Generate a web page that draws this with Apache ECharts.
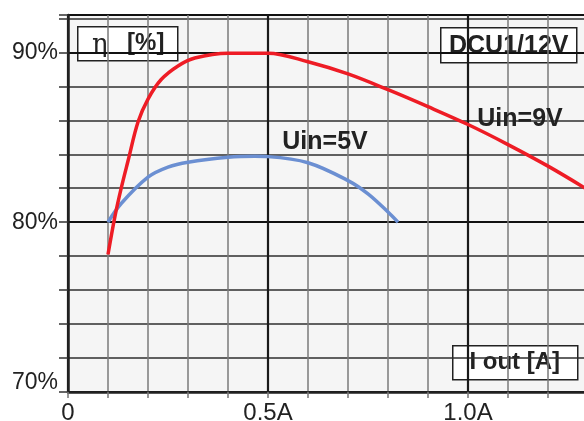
<!DOCTYPE html>
<html>
<head>
<meta charset="utf-8">
<script src="https://cdn.jsdelivr.net/npm/echarts@6/dist/echarts.min.js"></script>
<style>
html,body{margin:0;padding:0;background:#fff;}
#c{width:584px;height:421px;}
</style>
</head>
<body>
<div id="c"></div>
<script>
// Data
var iout9 = [0.1, 0.117, 0.133, 0.15, 0.175, 0.2, 0.233, 0.275, 0.317, 0.4, 0.5, 0.6, 0.7, 0.8, 0.9, 1.0, 1.1, 1.2, 1.3];
var eff9  = [78.1, 80.3, 82.0, 83.6, 85.9, 87.25, 88.4, 89.2, 89.67, 89.95, 89.95, 89.45, 88.73, 87.8, 86.8, 85.75, 84.57, 83.3, 81.9];
var iout5 = [0.1, 0.133, 0.2, 0.25, 0.3, 0.4, 0.467, 0.5, 0.6, 0.7, 0.75, 0.8, 0.825];
var eff5  = [80.0, 81.1, 82.65, 83.24, 83.53, 83.82, 83.88, 83.86, 83.5, 82.45, 81.67, 80.6, 80.0];
var xTickValues = [0, 0.5, 1.0];
var xTickLabels = ['0', '0.5A', '1.0A'];
var yTickValues = [70, 80, 90];
var yTickLabels = ['70%', '80%', '90%'];
var seriesNames = ['Uin=9V', 'Uin=5V'];

function zip(a, b) { return a.map(function (v, i) { return [v, b[i]]; }); }
function lookup(vals, labels, v) {
  for (var i = 0; i < vals.length; i++) if (Math.abs(vals[i] - v) < 1e-6) return labels[i];
  return '';
}

var FONT = '"Liberation Sans", Arial, sans-serif';
var chart = echarts.init(document.getElementById('c'));
chart.setOption({
  animation: false,
  backgroundColor: '#ffffff',
  grid: {left: 68, top: 15, width: 520, height: 377, show: true, outerBoundsMode: 'none',
         containLabel: false,
         backgroundColor: '#f5f5f5', borderColor: '#222', borderWidth: 2},
  xAxis: [
    {type: 'value', min: 0, max: 1.3, interval: 0.1, position: 'bottom',
     axisLine: {show: true, lineStyle: {color: '#222', width: 2.5}},
     axisTick: {show: true, length: 6, lineStyle: {color: '#777', width: 1.5}},
     axisLabel: {show: false},
     splitLine: {show: true, lineStyle: {color: '#7a7a7a', width: 1.5}}},
    {type: 'value', min: 0, max: 1.3, interval: 0.5, position: 'bottom',
     axisLine: {show: false},
     axisTick: {show: false},
     axisLabel: {show: true, margin: 9, fontSize: 24, color: '#222', fontFamily: FONT,
                 formatter: function (v) { return lookup(xTickValues, xTickLabels, v); }},
     splitLine: {show: true, lineStyle: {color: '#1a1a1a', width: 2.2}}}
  ],
  yAxis: [
    {type: 'value', min: 70, max: 92.2, interval: 2, position: 'left',
     axisLine: {show: true, lineStyle: {color: '#222', width: 2.5}},
     axisTick: {show: true, length: 9, lineStyle: {color: '#333', width: 1.5}},
     axisLabel: {show: false},
     splitLine: {show: true, lineStyle: {color: '#2e2e2e', width: 1.5}}},
    {type: 'value', min: 70, max: 92.2, interval: 10, position: 'left',
     axisLine: {show: false},
     axisTick: {show: false},
     axisLabel: {show: true, margin: 10, fontSize: 23, color: '#222', fontFamily: FONT,
                 formatter: function (v) {
                   var s = lookup(yTickValues, yTickLabels, v);
                   if (s && Math.abs(v - yTickValues[0]) < 1e-6) return '{low|' + s + '}';
                   return s;
                 },
                 rich: {low: {fontSize: 23, color: '#222', fontFamily: FONT, padding: [0, 0, 18, 0]}}},
     splitLine: {show: true, lineStyle: {color: '#111', width: 2.2}}}
  ],
  series: [
    {name: seriesNames[0], type: 'line', xAxisIndex: 0, yAxisIndex: 0,
     data: zip(iout9, eff9), smooth: 0.35, showSymbol: false,
     lineStyle: {color: '#ee1c25', width: 3.5}, z: 5},
    {name: seriesNames[1], type: 'line', xAxisIndex: 0, yAxisIndex: 0,
     data: zip(iout5, eff5), smooth: 0.35, showSymbol: false,
     lineStyle: {color: '#6b8fd2', width: 3.5}, z: 4}
  ],
  graphic: [
    {type: 'group', left: 77, top: 26, z: 100, children: [
      {type: 'rect', shape: {x: 0, y: 0, width: 100, height: 34},
       style: {fill: '#fff', stroke: '#222', lineWidth: 1.5}},
      {type: 'text', x: 22, y: 18, style: {
        text: 'η', align: 'center', verticalAlign: 'middle',
        font: '26px "DejaVu Serif", serif', fill: '#222'}},
      {type: 'text', x: 68, y: 17, style: {
        text: '[%]', align: 'center', verticalAlign: 'middle',
        font: 'bold 24px ' + FONT, fill: '#222'}}
    ]},
    {type: 'group', left: 440, top: 27, z: 100, children: [
      {type: 'rect', shape: {x: 0, y: 0, width: 136, height: 35},
       style: {fill: '#fff', stroke: '#222', lineWidth: 1.5}},
      {type: 'text', x: 68, y: 18, style: {
        text: 'DCU1/12V', align: 'center', verticalAlign: 'middle',
        font: 'bold 25px ' + FONT, fill: '#222'}}
    ]},
    {type: 'group', left: 452, top: 345, z: 100, children: [
      {type: 'rect', shape: {x: 0, y: 0, width: 125, height: 34},
       style: {fill: '#fff', stroke: '#222', lineWidth: 1.5}},
      {type: 'text', x: 62, y: 17, style: {
        text: 'I out [A]', align: 'center', verticalAlign: 'middle',
        font: 'bold 24px ' + FONT, fill: '#222'}}
    ]},
    {type: 'text', x: 520, y: 119, z: 100, style: {
      text: seriesNames[0], align: 'center', verticalAlign: 'middle',
      font: 'bold 25px ' + FONT, fill: '#222'}},
    {type: 'text', x: 325, y: 142, z: 100, style: {
      text: seriesNames[1], align: 'center', verticalAlign: 'middle',
      font: 'bold 25px ' + FONT, fill: '#222'}}
  ]
});
</script>
</body>
</html>
